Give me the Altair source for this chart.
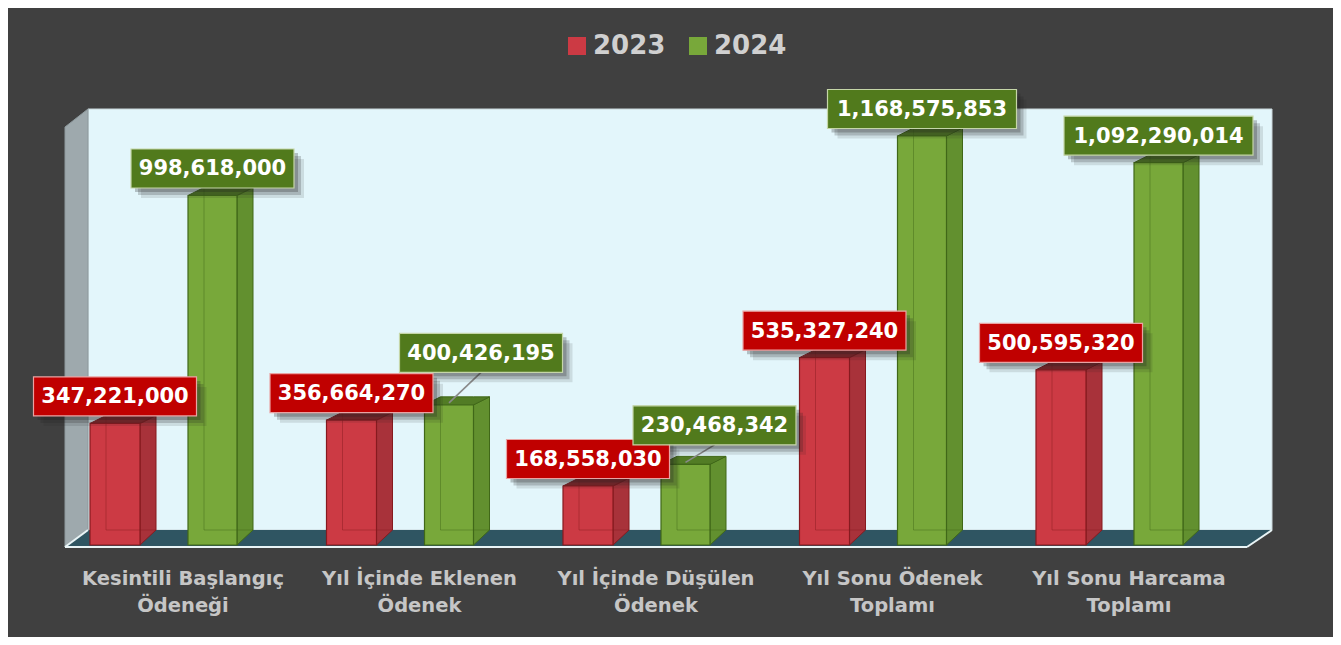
import altair as alt
import pandas as pd

# ---------------- data ----------------
categories = [
    "Kesintili Başlangıç\nÖdeneği",
    "Yıl İçinde Eklenen\nÖdenek",
    "Yıl İçinde Düşülen\nÖdenek",
    "Yıl Sonu Ödenek\nToplamı",
    "Yıl Sonu Harcama\nToplamı",
]
years = ["2023", "2024"]
values_2023 = [347221000, 356664270, 168558030, 535327240, 500595320]
values_2024 = [998618000, 400426195, 230468342, 1168575853, 1092290014]

# ---------------- geometry / style ----------------
X0, SX = 183.0, 236.5          # page x of category 0, px per category
Y0, SY = 545.0, 0.35e-6        # page y of value 0, px per value unit
PAD_L, PAD_T, PAD_R, PAD_B = 33, 82, 39, 7
W, H = 1253, 540


def xu(px):
    return (px - X0) / SX


def yv(py):
    return (Y0 - py) / SY


def dxu(px):
    return px / SX


def dyv(px):
    return px / SY


XMIN = xu(8 + PAD_L)
XMAX = XMIN + W / SX
YMAX = yv(8 + PAD_T)
YMIN = YMAX - H / SY

DEPTH_X, DEPTH_YB, DEPTH_YT = 16, 15, 8

BAR = {
    "2023": dict(l=-93, r=-43, front="#cc3a44", side="#a8323a", top="#8e282e",
                 edge="#861a1f", box="#c00000", boxedge="#e9a3a3"),
    "2024": dict(l=5, r=54, front="#78a83a", side="#62902f", top="#527c25",
                 edge="#406818", box="#517a1c", boxedge="#c5d6a8"),
}
LABEL_NUDGE = {("2024", 1): (32, 25), ("2024", 2): (29, 12)}

FONT = "DejaVu Sans"

xs = alt.Scale(domain=[XMIN, XMAX], nice=False, zero=False)
ys = alt.Scale(domain=[YMIN, YMAX], nice=False, zero=False)


def X(f="x"):
    return alt.X(f"{f}:Q", scale=xs, axis=None)


def Y(f="y"):
    return alt.Y(f"{f}:Q", scale=ys, axis=None, stack=None)


# ---------------- build rows ----------------
front, side, top, vline, hline, box, shadow, lead = [], [], [], [], [], [], [], []
for yr in years:
    vals = values_2023 if yr == "2023" else values_2024
    st = BAR[yr]
    for i, v in enumerate(vals):
        bid = f"{yr}-{i}"
        xl = i + dxu(st["l"])
        xr = i + dxu(st["r"])
        d = dxu(DEPTH_X)
        db = dyv(DEPTH_YB)
        dt = dyv(DEPTH_YT)
        front.append(dict(id=bid, year=yr, x=xl, x2=xr, y=0, y2=v))
        side += [dict(id=bid, year=yr, x=xr, y=0, y2=v),
                 dict(id=bid, year=yr, x=xr + d, y=db, y2=v + dt)]
        top += [dict(id=bid, year=yr, x=xl, y=v, y2=v),
                dict(id=bid, year=yr, x=xl + d, y=v, y2=v + dt),
                dict(id=bid, year=yr, x=xr, y=v, y2=v + dt),
                dict(id=bid, year=yr, x=xr + d, y=v + dt, y2=v + dt)]
        vline.append(dict(year=yr, x=xl + d, x2=xl + d, y=db, y2=v + dt))
        hline.append(dict(year=yr, x=xl + d, x2=xr + d, y=db, y2=db))
        txt = f"{v:,}"
        nx, ny = LABEL_NUDGE.get((yr, i), (0, 0))
        cxb = (xl + xr) / 2
        cx = cxb + dxu(nx)
        cy = v + dyv(27 + ny)
        half = dxu((13 * len(txt) + 20) / 2)
        hh = dyv(19.5)
        box.append(dict(year=yr, x=cx - half, x2=cx + half, y=cy - hh, y2=cy + hh,
                        cx=cx, cy=cy, text=txt))
        for k, (o, a) in enumerate([(4, 0.25), (7, 0.2), (10, 0.12)]):
            shadow.append(dict(year=yr, k=k, op=a, x=cx - half + dxu(o), x2=cx + half + dxu(o),
                               y=cy - hh - dyv(o), y2=cy + hh - dyv(o)))
        if (yr, i) in LABEL_NUDGE:
            lead.append(dict(x=cxb, y=v + dyv(2), x2=cx, y2=cy - hh))

front = pd.DataFrame(front)
side = pd.DataFrame(side)
top = pd.DataFrame(top)
vline = pd.DataFrame(vline)
hline = pd.DataFrame(hline)
box = pd.DataFrame(box)
shadow = pd.DataFrame(shadow)
lead = pd.DataFrame(lead)

# ---------------- walls ----------------
back_wall = pd.DataFrame([dict(x=xu(88), x2=xu(1272), y=yv(530), y2=yv(109))])
side_wall = pd.DataFrame([dict(x=xu(65), y=yv(547), y2=yv(127)),
                          dict(x=xu(88), y=yv(530), y2=yv(109))])
floor = pd.DataFrame([dict(x=xu(65), y=yv(547), y2=yv(547)),
                      dict(x=xu(88), y=yv(547), y2=yv(530)),
                      dict(x=xu(1247), y=yv(547), y2=yv(530)),
                      dict(x=xu(1272), y=yv(530), y2=yv(530))])
floor_edges = pd.DataFrame([dict(x=xu(65), x2=xu(1247), y=yv(547), y2=yv(547)),
                            dict(x=xu(65), x2=xu(88), y=yv(547), y2=yv(530)),
                            dict(x=xu(1247), x2=xu(1272), y=yv(547), y2=yv(530))])

layers = []
layers.append(alt.Chart(back_wall).mark_rect(fill="#e3f6fb", stroke="#c9d6da", strokeWidth=1)
              .encode(x=X(), x2="x2:Q", y=Y(), y2="y2:Q"))
layers.append(alt.Chart(side_wall).mark_area(fill="#9ea9ad", stroke="#8d999d", strokeWidth=1)
              .encode(x=X(), y=Y(), y2="y2:Q"))
layers.append(alt.Chart(floor).mark_area(fill="#2f5562")
              .encode(x=X(), y=Y(), y2="y2:Q"))
layers.append(alt.Chart(floor_edges).mark_rule(color="#e9f4f6", strokeWidth=2)
              .encode(x=X(), x2="x2:Q", y=Y(), y2="y2:Q"))

for yr in years:
    st = BAR[yr]
    layers.append(alt.Chart(side[side.year == yr]).mark_area(fill=st["side"], stroke=st["edge"], strokeWidth=1)
                  .encode(x=X(), y=Y(), y2="y2:Q", detail="id:N"))
    layers.append(alt.Chart(top[top.year == yr]).mark_area(fill=st["top"], stroke=st["edge"], strokeWidth=1)
                  .encode(x=X(), y=Y(), y2="y2:Q", detail="id:N"))

layers.append(alt.Chart(front).mark_rect(strokeWidth=1.2, stroke="#555555", strokeOpacity=0.0)
              .encode(x=X(), x2="x2:Q", y=Y(), y2="y2:Q",
                      color=alt.Color("year:N",
                                      scale=alt.Scale(domain=years, range=[BAR["2023"]["front"], BAR["2024"]["front"]]),
                                      legend=alt.Legend(title=None, orient="none", direction="horizontal",
                                                        legendX=523, legendY=-57, padding=0,
                                                        symbolType="square", symbolSize=324,
                                                        symbolStrokeWidth=0, symbolOpacity=1,
                                                        labelFont=FONT, labelFontSize=26, labelFontWeight="bold",
                                                        labelColor="#d0d0d0", labelOffset=3, columnPadding=19))))

for yr in years:
    st = BAR[yr]
    layers.append(alt.Chart(front[front.year == yr]).mark_rect(fill=None, stroke=st["edge"], strokeWidth=1.2)
                  .encode(x=X(), x2="x2:Q", y=Y(), y2="y2:Q"))
    layers.append(alt.Chart(vline[vline.year == yr]).mark_rule(color=st["edge"], strokeWidth=1, opacity=0.45)
                  .encode(x=X(), x2="x2:Q", y=Y(), y2="y2:Q"))
    layers.append(alt.Chart(hline[hline.year == yr]).mark_rule(color=st["edge"], strokeWidth=1, opacity=0.45)
                  .encode(x=X(), x2="x2:Q", y=Y(), y2="y2:Q"))

layers.append(alt.Chart(lead).mark_rule(color="#8a8a8a", strokeWidth=1.6)
              .encode(x=X(), x2="x2:Q", y=Y(), y2="y2:Q"))

layers.append(alt.Chart(shadow).mark_rect(fill="#1e1e1e")
              .encode(x=X(), x2="x2:Q", y=Y(), y2="y2:Q", opacity=alt.Opacity("op:Q", scale=None, legend=None)))

for yr in years:
    st = BAR[yr]
    b = box[box.year == yr]
    layers.append(alt.Chart(b).mark_rect(fill=st["box"], stroke=st["boxedge"], strokeWidth=1.2)
                  .encode(x=X(), x2="x2:Q", y=Y(), y2="y2:Q"))
    layers.append(alt.Chart(b).mark_text(font=FONT, fontSize=21, fontWeight="bold", color="#ffffff",
                                         align="center", baseline="middle", dy=1)
                  .encode(x=X("cx"), y=Y("cy"), text="text:N"))

cat_df = pd.DataFrame(dict(x=list(range(len(categories))), y=[yv(570)] * len(categories), text=categories))
layers.append(alt.Chart(cat_df).mark_text(font=FONT, fontSize=19.5, fontWeight="bold", color="#c6c6c6",
                                          align="center", baseline="top", lineBreak="\n", lineHeight=27)
              .encode(x=X(), y=Y(), text="text:N"))

chart = alt.layer(*layers).properties(
    width=W, height=H,
    padding={"left": PAD_L, "top": PAD_T, "right": PAD_R, "bottom": PAD_B},
    autosize=alt.AutoSizeParams(type="none"),
).configure(background="#404040").configure_view(stroke=None)

chart.save("out.html", embed_options={"renderer": "svg", "actions": False})
